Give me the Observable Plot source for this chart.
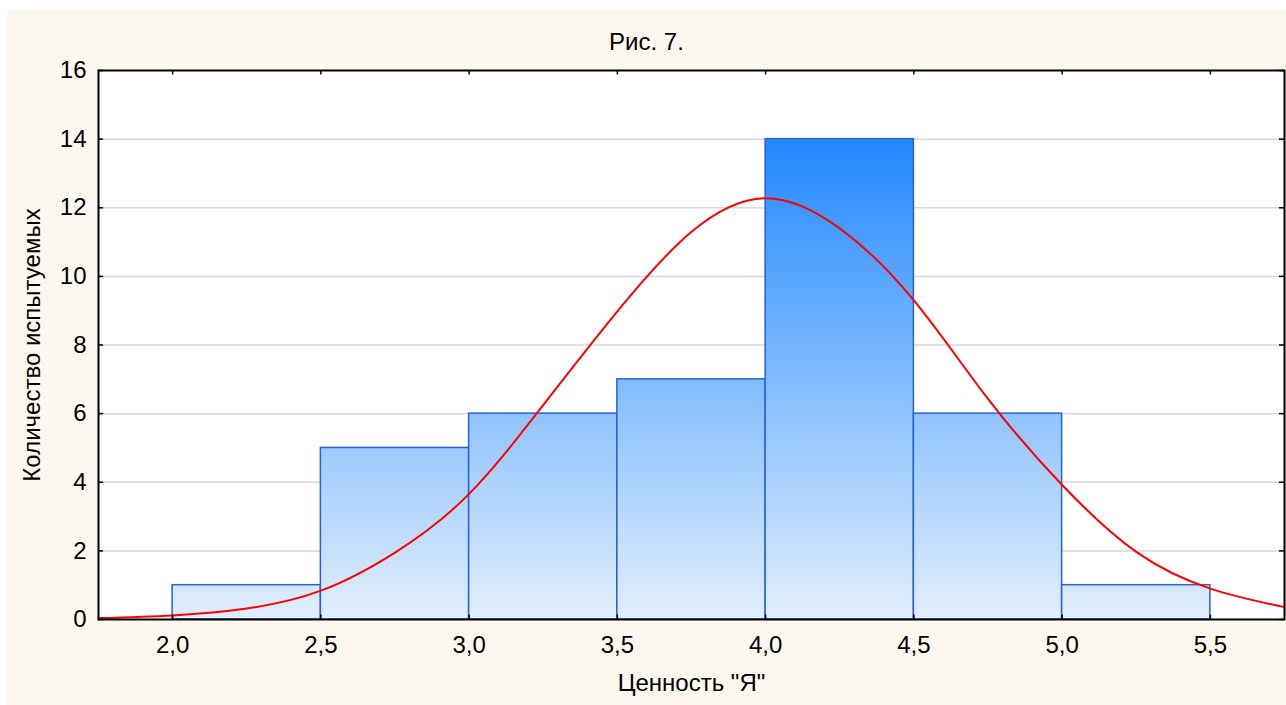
<!DOCTYPE html>
<html>
<head>
<meta charset="utf-8">
<script src="https://cdn.jsdelivr.net/npm/d3@7"></script>
<script src="https://cdn.jsdelivr.net/npm/@observablehq/plot@0.6"></script>
<style>
  html, body { margin: 0; padding: 0; background: #ffffff; }
  #wrap { position: absolute; left: 7px; top: 10px; width: 1279px; height: 695px; background: #fdf8ee; font-family: "Liberation Sans", Arial, sans-serif; }
  #title { position: absolute; left: 0; width: 1279px; top: 18px; text-align: center; font-size: 24px; line-height: 28px; color: #000; }
  #chart { position: absolute; left: 0; top: 0; }
</style>
</head>
<body>
<div id="wrap">
  <div id="chart"></div>
  <div id="title"></div>
</div>
<script>
// Histogram bins (lower edge, upper edge) and counts
const binStart = [2.0, 2.5, 3.0, 3.5, 4.0, 4.5, 5.0];
const binEnd   = [2.5, 3.0, 3.5, 4.0, 4.5, 5.0, 5.5];
const counts   = [1, 5, 6, 7, 14, 6, 1];

// Expected normal curve
const curveX = [1.75, 2.0, 2.25, 2.5, 2.75, 3.0, 3.25, 3.5, 3.75, 4.0, 4.25, 4.5, 4.75, 5.0, 5.25, 5.5, 5.75];
const curveY = [0.04, 0.12, 0.32, 0.84, 1.95, 3.66, 6.25, 8.98, 11.3, 12.28, 11.4, 9.3, 6.43, 3.92, 1.97, 0.9, 0.36];

const xTicks = [2.0, 2.5, 3.0, 3.5, 4.0, 4.5, 5.0, 5.5];
const yTicks = [0, 2, 4, 6, 8, 10, 12, 14, 16];
const titleText = "Рис. 7.";
const xLabel = "Ценность \"Я\"";
const yLabel = "Количество испытуемых";

const bars = binStart.map((s, i) => ({x1: s, x2: binEnd[i], y: counts[i]}));
const curve = curveX.map((x, i) => ({x, y: curveY[i]}));

const xMin = 1.75, xMax = 5.75, yMax = 16;
const fmt = d => d.toFixed(1).replace(".", ",");
const tx = 0.017, ty = 0.13;
const FS = 24;

const chart = Plot.plot({
  width: 1279,
  height: 695,
  marginLeft: 91,
  marginRight: 2,
  marginTop: 60,
  marginBottom: 86,
  style: {background: "transparent", fontFamily: "'Liberation Sans', Arial, sans-serif", fontSize: FS + "px", color: "#000"},
  x: {domain: [xMin, xMax]},
  y: {domain: [0, yMax]},
  marks: [
    Plot.frame({fill: "#ffffff", stroke: null}),
    Plot.ruleY(yTicks.filter(d => d > 0 && d < yMax), {stroke: "#d9d9d9", strokeWidth: 1.5}),
    Plot.rectY(bars, {x1: "x1", x2: "x2", y: "y", fill: "url(#barGrad)", stroke: "#2762d6", strokeWidth: 1.5}),
    Plot.line(curve, {x: "x", y: "y", stroke: "#ff0000", strokeWidth: 2, curve: "natural"}),
    // inward ticks on all four sides
    Plot.ruleX(xTicks, {x: d => d, y1: 0, y2: ty, stroke: "#000", strokeWidth: 1.5}),
    Plot.ruleX(xTicks, {x: d => d, y1: yMax, y2: yMax - ty, stroke: "#000", strokeWidth: 1.5}),
    Plot.ruleY(yTicks, {y: d => d, x1: xMin, x2: xMin + tx, stroke: "#000", strokeWidth: 1.5}),
    Plot.ruleY(yTicks, {y: d => d, x1: xMax, x2: xMax - tx, stroke: "#000", strokeWidth: 1.5}),
    Plot.frame({stroke: "#000", strokeWidth: 2}),
    Plot.axisX(xTicks, {tickSize: 0, tickPadding: 16, tickFormat: fmt, label: null, fontSize: FS}),
    Plot.axisY(yTicks, {tickSize: 0, tickPadding: 12, label: null, fontSize: FS}),
    Plot.text([xLabel], {frameAnchor: "bottom", dy: 71, fontSize: FS, textAnchor: "middle"}),
    Plot.text([yLabel], {frameAnchor: "left", dx: -66, rotate: -90, fontSize: FS, textAnchor: "middle"})
  ]
});

// vertical gradient tied to the y scale (darker toward the top)
const ys = chart.scale("y");
const svg = d3.select(chart);
const defs = svg.insert("defs", ":first-child");
const g = defs.append("linearGradient")
  .attr("id", "barGrad")
  .attr("gradientUnits", "userSpaceOnUse")
  .attr("x1", 0).attr("x2", 0)
  .attr("y1", ys.apply(0)).attr("y2", ys.apply(14));
g.append("stop").attr("offset", 0).attr("stop-color", "#e2effc");
g.append("stop").attr("offset", 1).attr("stop-color", "#2188ff");

document.getElementById("chart").appendChild(chart);
document.getElementById("title").textContent = titleText;
</script>
</body>
</html>
